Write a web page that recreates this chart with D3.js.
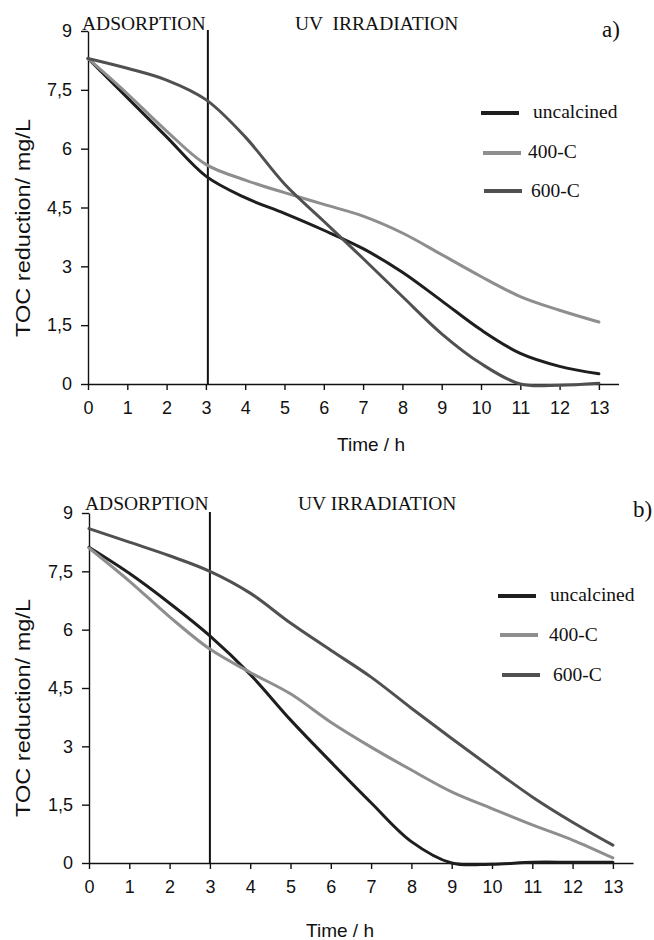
<!DOCTYPE html>
<html>
<head>
<meta charset="utf-8">
<script src="https://cdn.jsdelivr.net/npm/d3@7"></script>
<style>
  html, body { margin: 0; padding: 0; background: #fff; }
  svg { display: block; }
  .sans { font-family: "Liberation Sans", Arial, sans-serif; }
  .serif { font-family: "Liberation Serif", "Times New Roman", serif; }
</style>
</head>
<body>
<svg id="chart" width="654" height="940"></svg>
<script>
// ---------- data ----------
const times = [0, 1, 2, 3, 4, 5, 6, 7, 8, 9, 10, 11, 12, 13];
const seriesNames = ["uncalcined", "400-C", "600-C"];
const seriesColors = ["#1e1e1e", "#8e8e8e", "#505050"];
const yTickValues = [0, 1.5, 3, 4.5, 6, 7.5, 9];
const yTickLabels = ["0", "1,5", "3", "4,5", "6", "7,5", "9"];

// panel a)
const uncalcinedA = [8.3, 7.3, 6.3, 5.3, 4.75, 4.35, 3.92, 3.45, 2.85, 2.12, 1.38, 0.78, 0.45, 0.26];
const c400A       = [8.3, 7.4, 6.45, 5.6, 5.2, 4.88, 4.58, 4.28, 3.85, 3.3, 2.74, 2.23, 1.88, 1.58];
const c600A       = [8.3, 8.05, 7.75, 7.25, 6.3, 5.1, 4.15, 3.2, 2.23, 1.28, 0.52, 0.0, -0.03, 0.02];
// panel b)
const uncalcinedB = [8.12, 7.45, 6.68, 5.84, 4.85, 3.68, 2.6, 1.55, 0.55, 0.0, -0.03, 0.02, 0.02, 0.02];
const c400B       = [8.1, 7.25, 6.33, 5.5, 4.9, 4.35, 3.62, 2.98, 2.39, 1.83, 1.4, 0.98, 0.59, 0.13];
const c600B       = [8.6, 8.25, 7.9, 7.5, 6.94, 6.17, 5.47, 4.78, 3.98, 3.2, 2.44, 1.7, 1.05, 0.46];

const phaseBoundary = [3.05, 3.0];   // end of adsorption (h)
const panelLabels = ["a)", "b)"];
const phaseTexts = ["ADSORPTION", "UV  IRRADIATION", "UV IRRADIATION"];
const xAxisTitle = "Time / h";
const yAxisTitle = "TOC reduction/ mg/L";

// ---------- layout ----------
const panels = [
  { series: [uncalcinedA, c400A, c600A], boundary: phaseBoundary[0], label: panelLabels[0],
    uvText: phaseTexts[1],
    x0: 88, x1: 88 + 13.5 * 39.3, yTop: 31, yBot: 384,
    adsX: 82, adsY: 30, uvX: 295, uvY: 30, lblX: 602, lblY: 37,
    legLine: [481, 519], legText: 531, legY: [113, 153, 191], legTY: [118, 158, 197],
    legLineOff: [0, 2, 3], legTextOff: [2, -3, 0],
    xTitleX: 371, xTitleY: 451, yTitleX: 30, yTitleY: 228 },
  { series: [uncalcinedB, c400B, c600B], boundary: phaseBoundary[1], label: panelLabels[1],
    uvText: phaseTexts[2],
    x0: 89, x1: 89 + 13.5 * 40.3, yTop: 513, yBot: 863,
    adsX: 85, adsY: 510, uvX: 298, uvY: 510, lblX: 633, lblY: 517,
    legLine: [498, 536], legText: 550, legY: [596, 635, 675], legTY: [601, 641, 681],
    legLineOff: [0, 2, 4], legTextOff: [0, -1, 3],
    xTitleX: 340, xTitleY: 937, yTitleX: 30, yTitleY: 708 }
];

const svg = d3.select("#chart");

panels.forEach(p => {
  const x = d3.scaleLinear().domain([0, 13.5]).range([p.x0, p.x1]);
  const y = d3.scaleLinear().domain([0, 9]).range([p.yBot, p.yTop]);
  const g = svg.append("g");

  // x axis
  const xAxis = d3.axisBottom(x).tickValues(times).tickSize(6).tickPadding(11).tickSizeOuter(0)
    .tickFormat(d3.format("d"));
  const gx = g.append("g").attr("transform", `translate(0,${p.yBot})`).call(xAxis);
  gx.selectAll("text").attr("class", "sans").style("font-size", "18px").attr("fill", "#111");

  // y axis
  const yAxis = d3.axisLeft(y).tickValues(yTickValues).tickSize(7).tickPadding(9).tickSizeOuter(0)
    .tickFormat((d, i) => yTickLabels[i]);
  const gy = g.append("g").attr("transform", `translate(${p.x0},0)`).call(yAxis);
  gy.selectAll("text").attr("class", "sans").style("font-size", "18px").attr("fill", "#111");

  [gx, gy].forEach(a => {
    a.select(".domain").attr("stroke", "#111").attr("stroke-width", 1.4);
    a.selectAll(".tick line").attr("stroke", "#111").attr("stroke-width", 1.4);
  });

  // phase boundary
  g.append("line")
    .attr("x1", x(p.boundary)).attr("x2", x(p.boundary))
    .attr("y1", p.yTop - 1).attr("y2", p.yBot)
    .attr("stroke", "#111").attr("stroke-width", 2);

  // series
  const line = d3.line()
    .x((d, i) => x(times[i]))
    .y(d => y(d))
    .curve(d3.curveCatmullRom.alpha(0.5));
  p.series.forEach((s, k) => {
    g.append("path").datum(s)
      .attr("d", line)
      .attr("fill", "none")
      .attr("stroke", seriesColors[k])
      .attr("stroke-width", 3)
      .attr("stroke-linecap", "round");
  });

  // legend
  seriesNames.forEach((name, k) => {
    g.append("line")
      .attr("x1", p.legLine[0] + p.legLineOff[k]).attr("x2", p.legLine[1] + p.legLineOff[k])
      .attr("y1", p.legY[k]).attr("y2", p.legY[k])
      .attr("stroke", seriesColors[k]).attr("stroke-width", 4);
    g.append("text").attr("class", "serif")
      .attr("x", p.legText + p.legTextOff[k]).attr("y", p.legTY[k])
      .style("font-size", "19.5px").attr("fill", "#111")
      .text(name);
  });

  // phase texts
  g.append("text").attr("class", "serif").attr("x", p.adsX).attr("y", p.adsY)
    .style("font-size", "19.5px").attr("fill", "#111").text(phaseTexts[0]);
  g.append("text").attr("class", "serif").attr("x", p.uvX).attr("y", p.uvY)
    .style("font-size", "19.5px").style("white-space", "pre").attr("fill", "#111").text(p.uvText);
  g.append("text").attr("class", "serif").attr("x", p.lblX).attr("y", p.lblY)
    .style("font-size", "23px").attr("fill", "#111").text(p.label);

  // axis titles
  g.append("text").attr("class", "sans").attr("x", p.xTitleX).attr("y", p.xTitleY)
    .attr("text-anchor", "middle").style("font-size", "19px").attr("fill", "#111").text(xAxisTitle);
  g.append("text").attr("class", "sans")
    .attr("transform", `translate(${p.yTitleX},${p.yTitleY}) rotate(-90)`)
    .attr("text-anchor", "middle").style("font-size", "20px").attr("fill", "#111")
    .attr("textLength", 218).attr("lengthAdjust", "spacingAndGlyphs")
    .text(yAxisTitle);
});
</script>
</body>
</html>
